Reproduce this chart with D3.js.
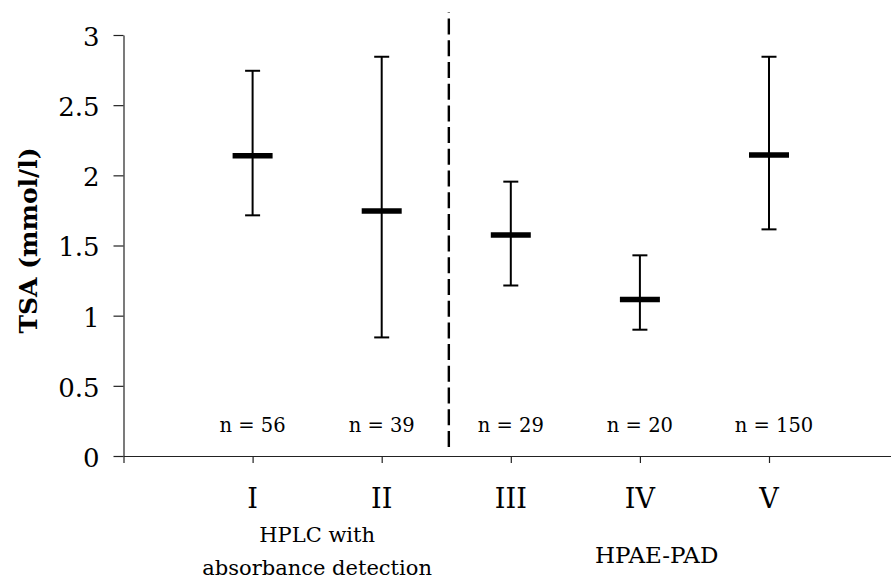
<!DOCTYPE html>
<html>
<head>
<meta charset="utf-8">
<script src="https://cdn.jsdelivr.net/npm/d3@7"></script>
<style>
  html, body { margin: 0; padding: 0; background: #fff; }
  svg { display: block; }
</style>
</head>
<body>
<svg id="chart" width="891" height="579"></svg>
<script>
// ---- data ----
const categories = ["I", "II", "III", "IV", "V"];
const positions = [1, 2, 3, 4, 5];
const means = [2.14, 1.745, 1.575, 1.115, 2.145];
const lows = [1.715, 0.845, 1.215, 0.9, 1.615];
const highs = [2.745, 2.845, 1.955, 1.43, 2.845];
const sampleLabels = ["n = 56", "n = 39", "n = 29", "n = 20", "n = 150"];
const yTicks = [0, 0.5, 1, 1.5, 2, 2.5, 3];
const yTickLabels = ["0", "0.5", "1", "1.5", "2", "2.5", "3"];
const groupLabels = [
  { lines: ["HPLC with", "absorbance detection"], pos: 1.5 },
  { lines: ["HPAE-PAD"], pos: 4.13 }
];
const dividerPos = 2.52;
const dividerRange = [0.065, 3.16];
const yTitle = "TSA (mmol/l)";

const FONT = "'DejaVu Serif', 'Liberation Serif', serif";

// ---- layout ----
const svg = d3.select("#chart");
const x = d3.scaleLinear().domain([0, 5.945]).range([123.5, 891]);
const y = d3.scaleLinear().domain([0, 3]).range([456, 35]);

// y axis
const yAxis = d3.axisLeft(y)
  .tickValues(yTicks)
  .tickFormat((d, i) => yTickLabels[i])
  .tickSize(10)
  .tickSizeOuter(0)
  .tickPadding(14);
const gy = svg.append("g").attr("transform", `translate(${x(0)},0)`).call(yAxis);
gy.attr("font-family", null).attr("font-size", null);
gy.selectAll("text")
  .attr("font-family", FONT)
  .attr("font-size", 26)
  .attr("fill", "#000")
  .attr("dy", "0.4em");

// x axis
const xAxis = d3.axisBottom(x)
  .tickValues([0].concat(positions))
  .tickFormat(() => "")
  .tickSize(7)
  .tickSizeOuter(0);
const gx = svg.append("g").attr("transform", `translate(0,${y(0)})`).call(xAxis);

[gy, gx].forEach(g => {
  g.selectAll("path, line").attr("stroke", "#222").attr("stroke-width", 1.2);
});

// category labels
svg.append("g").selectAll("text")
  .data(categories)
  .join("text")
  .attr("x", (d, i) => x(positions[i]))
  .attr("y", 508)
  .attr("text-anchor", "middle")
  .attr("font-family", FONT)
  .attr("font-size", 27)
  .text(d => d);

// group labels
groupLabels.forEach((g, gi) => {
  const t = svg.append("text")
    .attr("x", x(g.pos))
    .attr("y", gi === 0 ? 542 : 563)
    .attr("text-anchor", "middle")
    .attr("font-family", FONT)
    .attr("font-size", gi === 0 ? 21 : 23);
  g.lines.forEach((ln, li) => {
    t.append("tspan")
      .attr("x", x(g.pos))
      .attr("dy", li === 0 ? 0 : 33)
      .text(ln);
  });
});

// divider
svg.append("path")
  .attr("d", d3.line()([[x(dividerPos), y(dividerRange[0])], [x(dividerPos), y(dividerRange[1])]]))
  .attr("stroke", "#000")
  .attr("stroke-width", 2.4)
  .attr("stroke-dasharray", "16,5.7");

// error bars
const capW = 15, meanW = 40;
const bars = svg.append("g").selectAll("g")
  .data(categories.map((c, i) => ({ c, pos: positions[i], m: means[i], lo: lows[i], hi: highs[i] })))
  .join("g");

bars.append("line")
  .attr("x1", d => x(d.pos)).attr("x2", d => x(d.pos))
  .attr("y1", d => y(d.lo)).attr("y2", d => y(d.hi))
  .attr("stroke", "#000").attr("stroke-width", 2);
bars.append("line")
  .attr("x1", d => x(d.pos) - capW / 2).attr("x2", d => x(d.pos) + capW / 2)
  .attr("y1", d => y(d.hi)).attr("y2", d => y(d.hi))
  .attr("stroke", "#000").attr("stroke-width", 2);
bars.append("line")
  .attr("x1", d => x(d.pos) - capW / 2).attr("x2", d => x(d.pos) + capW / 2)
  .attr("y1", d => y(d.lo)).attr("y2", d => y(d.lo))
  .attr("stroke", "#000").attr("stroke-width", 2);
bars.append("line")
  .attr("x1", d => x(d.pos) - meanW / 2).attr("x2", d => x(d.pos) + meanW / 2)
  .attr("y1", d => y(d.m)).attr("y2", d => y(d.m))
  .attr("stroke", "#000").attr("stroke-width", 5.5);

// sample size labels
svg.append("g").selectAll("text")
  .data(sampleLabels)
  .join("text")
  .attr("x", (d, i) => x(positions[i]) + (i === 4 ? 5 : 0))
  .attr("y", y(0) - 24)
  .attr("text-anchor", "middle")
  .attr("font-family", FONT)
  .attr("font-size", 19.5)
  .text(d => d);

// y title
svg.append("text")
  .attr("transform", `translate(37,${y(1.5) - 5}) rotate(-90)`)
  .attr("text-anchor", "middle")
  .attr("font-family", FONT)
  .attr("font-size", 25)
  .attr("font-weight", "bold")
  .text(yTitle);
</script>
</body>
</html>
